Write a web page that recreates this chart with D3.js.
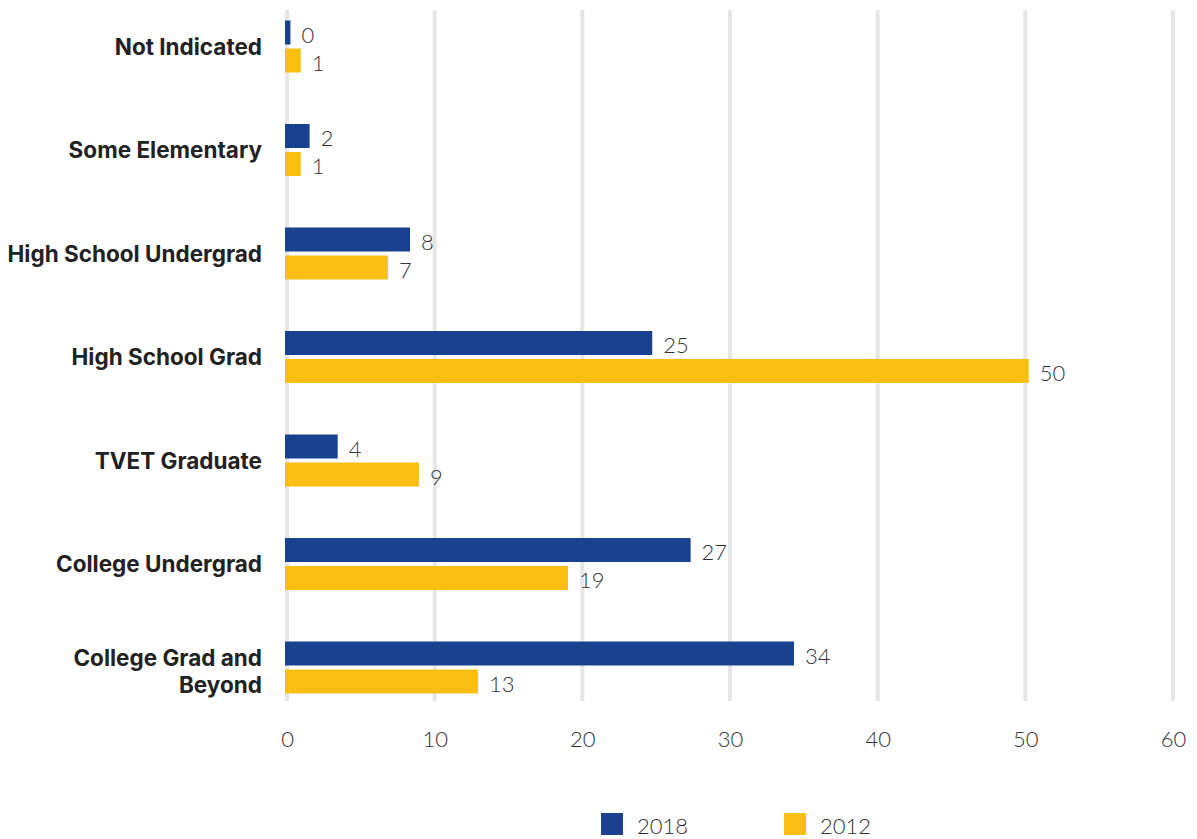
<!DOCTYPE html>
<html>
<head>
<meta charset="utf-8">
<script src="https://cdn.jsdelivr.net/npm/d3@7"></script>
<style>
  html, body { margin: 0; padding: 0; background: #ffffff; }
  svg { display: block; }
</style>
</head>
<body>
<svg id="chart" width="1197" height="839"></svg>
<script>
// Education level of respondents, share (%) by survey year
const categories = [
  "Not Indicated",
  "Some Elementary",
  "High School Undergrad",
  "High School Grad",
  "TVET Graduate",
  "College Undergrad",
  "College Grad and Beyond"
];
const values2018 = [0.3, 1.6, 8.4, 24.8, 3.5, 27.4, 34.4];
const values2012 = [1.0, 1.0, 6.9, 50.3, 9.0, 19.1, 13.0];
const seriesNames = ["2018", "2012"];
const seriesColors = ["#19418f", "#fbbe13"];
const xTicks = [0, 10, 20, 30, 40, 50, 60];

const svg = d3.select("#chart");
const labelFont = "Inter, 'Noto Sans', sans-serif";
const numFont = "Lato, 'Noto Sans', sans-serif";

const x = d3.scaleLinear().domain([0, 60]).range([286, 1172]);
const y = d3.scaleBand().domain(categories).range([-5.25, 719.25]).paddingInner(0).paddingOuter(0);

const barH = 24, barGap = 4;

// vertical gridlines
svg.append("g").selectAll("line").data(xTicks).join("line")
  .attr("x1", d => x(d) + 1).attr("x2", d => x(d) + 1)
  .attr("y1", 10).attr("y2", 701)
  .attr("stroke", "#e6e6e8").attr("stroke-width", 4);

// x-axis tick labels
const xAxis = d3.axisBottom(x).tickValues(xTicks).tickSize(0).tickPadding(0).tickFormat(d3.format("d"));
const gx = svg.append("g").attr("transform", "translate(1,729)").call(xAxis);
gx.select(".domain").remove();
gx.selectAll("text")
  .attr("dy", 0).attr("y", 18)
  .attr("font-family", numFont).attr("font-weight", 300)
  .attr("font-size", 22).attr("fill", "#333333");

// category labels
const yLabels = svg.append("g");
categories.forEach(c => {
  const cy = y(c) + y.bandwidth() / 2;
  const t = yLabels.append("text")
    .attr("x", 262).attr("text-anchor", "end")
    .attr("font-family", labelFont).attr("font-weight", 700)
    .attr("font-size", 22.5).attr("fill", "#222222");
  if (c === "College Grad and Beyond") {
    t.append("tspan").attr("x", 262).attr("y", cy - 2).text("College Grad and");
    t.append("tspan").attr("x", 262).attr("y", cy + 25).text("Beyond");
  } else {
    t.attr("y", cy + 8).text(c);
  }
});

// bars and value labels
const fmt = d3.format(".0f");
const series = [values2018, values2012];
series.forEach((vals, si) => {
  const g = svg.append("g");
  const rows = categories.map((c, i) => ({ c, v: vals[i] }));
  const top = d => y(d.c) + y.bandwidth() / 2 - barGap / 2 - barH + si * (barH + barGap);
  g.selectAll("rect").data(rows).join("rect")
    .attr("x", x(0) - 1)
    .attr("y", top)
    .attr("width", d => x(d.v) - x(0) + 1)
    .attr("height", barH)
    .attr("fill", seriesColors[si]);
  g.selectAll("text").data(rows).join("text")
    .attr("x", d => x(d.v) + 11)
    .attr("y", d => top(d) + barH / 2 + 10)
    .attr("font-family", numFont).attr("font-weight", 300)
    .attr("font-size", 22).attr("fill", "#333333")
    .text(d => fmt(d.v));
});

// legend
const legendX = [601, 784];
const legend = svg.append("g");
seriesNames.forEach((name, i) => {
  legend.append("rect")
    .attr("x", legendX[i]).attr("y", 813)
    .attr("width", 22).attr("height", 22)
    .attr("fill", seriesColors[i]);
  legend.append("text")
    .attr("x", legendX[i] + 36).attr("y", 834)
    .attr("font-family", numFont).attr("font-weight", 300)
    .attr("font-size", 22).attr("fill", "#333333")
    .text(name);
});
</script>
</body>
</html>
